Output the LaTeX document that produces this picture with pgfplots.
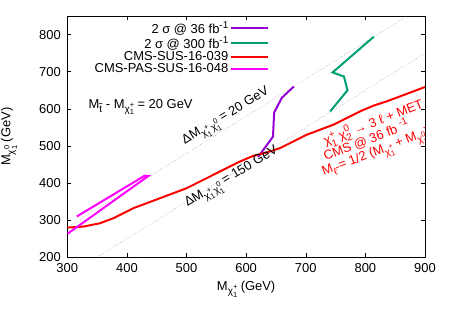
\documentclass[border=0pt]{standalone}
\usepackage{fontspec}
\setmainfont{Liberation Sans}
\usepackage{pgfplots}
\pgfplotsset{compat=1.18}
\definecolor{cviolet}{HTML}{9400D3}
\definecolor{cgreen}{HTML}{009E73}
\definecolor{cred}{HTML}{FF0000}
\definecolor{cmag}{HTML}{FF00FF}
\newcommand{\lo}[1]{\raisebox{-0.3em}{\fontsize{10}{10}\selectfont #1}}
\newcommand{\hi}[1]{\raisebox{0.42em}{\fontsize{10}{10}\selectfont #1}}
\newcommand{\llo}[1]{\raisebox{-0.28em}{\fontsize{7.5}{7.5}\selectfont #1}}
\newcommand{\hhi}[1]{\raisebox{0.5em}{\fontsize{7.5}{7.5}\selectfont #1}}
\newcommand{\chisub}[2]{χ\rlap{\hhi{#1}}\llo{#2}}
\newcommand{\chis}[2]{χ\rlap{\hi{#1}}\lo{#2}}
\newcommand{\fs}{\fontsize{13}{15}\selectfont}
\begin{document}
\begin{tikzpicture}
\begin{axis}[
  at={(0,0)}, anchor=south west,
  scale only axis, width=357.7bp, height=241.3bp,
  xmin=300, xmax=900, ymin=200, ymax=850,
  xtick={300,400,...,900}, ytick={200,300,...,800},
  minor tick num=0, tick align=inside, tick pos=both,
  major tick length=4bp,
  tick style={black, line width=0.5pt},
  axis line style={line width=0.6pt},
  /pgf/number format/assume math mode=true,
  /pgf/number format/1000 sep={},
  tick label style={font=\fs},
  xticklabel style={yshift=-3bp},
  yticklabel style={xshift=-3bp},
  xlabel={M\lo{\chisub{+}{1}} (GeV)},
  ylabel={M\lo{\chisub{0}{1}} (GeV)},
  label style={font=\fs},
  xlabel style={at={(axis description cs:0.5,-0.1326)}, anchor=center},
  ylabel style={at={(axis description cs:-0.163,0.5)}, anchor=center},
  legend style={draw=none, fill=none, at={(axis description cs:0.564,0.985)}, anchor=north east,
    font=\fs, row sep=-1.6bp, inner sep=0pt, nodes={inner sep=1.5bp}},
  legend cell align=right,
  legend plot pos=right,
  legend image code/.code={\draw[#1] (0bp,0bp) -- (37bp,0bp);},
  clip=true,
]
\addplot[gray, dotted, line width=0.5pt, forget plot] coordinates {(300,280) (870,850)};
\addplot[gray, dotted, line width=0.5pt, forget plot] coordinates {(350,200) (900,750)};

\addplot[cviolet, line width=2bp] coordinates {
(620,470) (645,525) (647,590) (660,630) (680,660)};
\addlegendentry{2 σ @ 36 fb\hi{-1}}

\addplot[cgreen, line width=2bp] coordinates {
(741,593) (770,650) (764,687) (745,698) (814,794)};
\addlegendentry{2 σ @ 300 fb\hi{-1}}

\addplot[cred, line width=2bp] coordinates {
(300,280.0) (326.8,282.7) (354.8,291.7) (377.2,305.2) (394.0,318.7) (410.7,332.2)
(433.1,345.7) (455.5,359.2) (477.9,372.7) (500.2,386.2) (522.6,404.2) (545.0,422.2)
(567.3,440.2) (589.7,458.1) (612.1,473.4) (634.5,482.4) (656.8,494.1) (679.2,512.1)
(701.6,530.1) (723.9,543.6) (746.3,557.1) (768.7,575.1) (791.1,593.1) (813.4,608.4)
(835.8,620.1) (858.2,633.5) (880.5,647.0) (900,658.7)};
\addlegendentry{CMS-SUS-16-039}

\addplot[cmag, line width=2bp] coordinates {
(316,310) (430,420) (436,419) (300,263)};
\addlegendentry{CMS-PAS-SUS-16-048}

\node[font=\fs, anchor=west] at (axis cs:330,605) {M\lo{\~{t}} - M\lo{\chisub{+}{1}} = 20 GeV};
\node[font=\fs, anchor=south, rotate=31, inner sep=1bp] at (axis cs:575,555) {ΔM\lo{\chisub{+}{1}\,\chisub{0}{1}} = 20 GeV};
\node[font=\fs, anchor=center, rotate=31, inner sep=1bp] at (axis cs:577,412) {ΔM\lo{\chisub{+}{1}\,\chisub{0}{1}} = 150 GeV};
\node[font=\fs, text=cred, anchor=base west, rotate=21, inner sep=0pt] at (axis cs:733,500) {\chis{+}{1} \chis{0}{2} → 3 ℓ + MET};
\node[font=\fs, text=cred, anchor=base west, rotate=21, inner sep=0pt] at (axis cs:733,460) {CMS @ 36 fb \hi{-1}};
\node[font=\fs, text=cred, anchor=base west, rotate=21, inner sep=0pt] at (axis cs:730,419) {M\lo{\~{ℓ}} = 1/2 (M\lo{\chisub{+}{1}} + M\lo{\chisub{0}{1}})};
\end{axis}
\pgfresetboundingbox
\useasboundingbox (-67.3bp,-57.7bp) rectangle (382.7bp,257.3bp);
\end{tikzpicture}
\end{document}
